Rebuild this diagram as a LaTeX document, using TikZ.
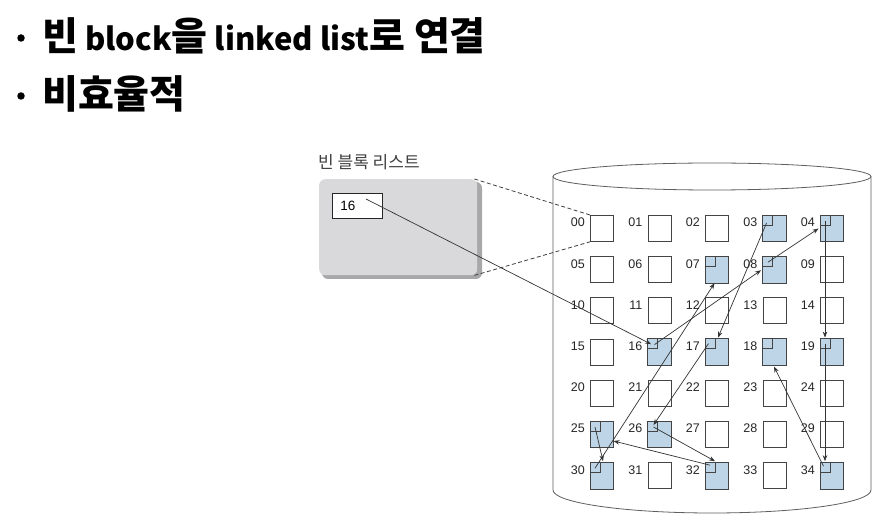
\documentclass[tikz,border=0pt]{standalone}
\usepackage{fontspec}
\setmainfont{Liberation Sans}
\newfontfamily\kor{Noto Sans CJK KR}
\newcommand\hangulbig{\fontsize{39}{42}\selectfont}
\usetikzlibrary{arrows.meta}
\definecolor{blockblue}{HTML}{BDD5E6}
\definecolor{panelgray}{HTML}{D9D9DB}
\definecolor{panelshadow}{HTML}{A8A8AA}
\definecolor{edgegray}{HTML}{444444}
\definecolor{cylgray}{HTML}{5E5E5E}
\begin{document}
\begin{tikzpicture}[x=1pt,y=-1pt,
  blockbox/.style={draw=edgegray, line width=0.8pt, fill=white, minimum width=23pt, minimum height=26pt, inner sep=0pt, anchor=north west},
  numlabel/.style={anchor=north east, inner sep=0pt, font=\fontsize{12.5}{13}\selectfont, text=black!85},
  link/.style={draw=black!80, line width=0.7pt, -{Stealth[length=6pt,width=4.5pt]}},
  cornermark/.style={draw=edgegray, line width=0.8pt},
  titletext/.style={anchor=base west, inner sep=0pt, font=\kor\bfseries\fontsize{31}{40}\selectfont},
  bullet/.style={circle, fill=black, inner sep=0pt, minimum size=7.5pt},
  dashline/.style={draw=black!75, line width=0.8pt, dash pattern=on 4pt off 2.5pt}
]
\useasboundingbox (0,0) rectangle (884,526);

% titles
\node[bullet] (bu1) at (21,38) {};
\node[titletext] (t1) at (42,51) {{\hangulbig 빈} block{\hangulbig 을} linked list{\hangulbig 로 연결}};
\node[bullet] (bu2) at (21,96) {};
\node[titletext] (t2) at (42,109) {\hangulbig 비효율적};

% cylinder
\filldraw[draw=cylgray, fill=white, line width=0.8pt]
  (553,176.5) -- (553,490) arc[start angle=180, end angle=360, x radius=159pt, y radius=23pt] -- (871,176.5);
\draw[draw=cylgray, fill=white, line width=0.8pt] (712,176.5) ellipse [x radius=159pt, y radius=13.5pt];

% free block list panel
\node[anchor=base west, inner sep=0pt, font=\kor\fontsize{17}{19}\selectfont, text=black!75] (ttl) at (318,169) {빈 블록 리스트};
\fill[panelshadow, rounded corners=6pt] (322,182) rectangle (482,279);
\node[fill=panelgray, rounded corners=6pt, minimum width=158pt, minimum height=96pt, anchor=north west, inner sep=0pt] (g) at (319,179) {};
\node[draw=black!85, fill=white, line width=0.8pt, minimum width=50pt, minimum height=25pt, anchor=north west, inner sep=0pt, font=\fontsize{13.5}{14}\selectfont] (h) at (332,193) {\makebox[34pt][l]{16}};

% blocks
\foreach \r in {0,...,6} {
  \foreach \c in {0,...,4} {
    \pgfmathtruncatemacro\n{5*\r+\c}
    \edef\lab{\ifnum\n<10 0\fi\n}
    \node[blockbox] (b\lab) at ({590+57.5*\c},{215+41.2*\r}) {};
    \node[numlabel] (l\lab) at ({585+57.5*\c},{218+41.2*\r}) {\lab};
  }
}
\foreach \b in {03,04,07,08,16,17,18,19,25,26,30,32,34} {
  \draw[draw=edgegray, line width=0.8pt, fill=blockblue] (b\b.north west) rectangle (b\b.south east);
  \draw[cornermark] ([shift={(10,0)}]b\b.north west) -- ([shift={(10,10)}]b\b.north west) -- ([shift={(0,10)}]b\b.north west);
}

% dashed zoom lines
\draw[dashline] ([shift={(-3,0)}]g.north east) -- (b00.north west);
\draw[dashline] ([shift={(-3,0)}]g.south east) -- (b00.south west);

% links
\draw[link] ([shift={(34,6)}]h.north west) -- ([shift={(3.5,5.5)}]b16.north west);
\draw[link] ([shift={(7,6)}]b16.north west) -- ([shift={(-1.5,14)}]b08.north west);
\draw[link] ([shift={(5.5,6)}]b08.north west) -- ([shift={(-1.5,13.5)}]b04.north west);
\draw[link] ([shift={(5,6)}]b04.north west) -- ([shift={(5,-1)}]b19.north west);
\draw[link] ([shift={(5,5)}]b19.north west) -- ([shift={(5,-1)}]b34.north west);
\draw[link] ([shift={(3.5,4)}]b34.north west) -- ([shift={(11.5,28)}]b18.north west);
\draw[link] ([shift={(4,8)}]b03.north west) -- ([shift={(13,-1)}]b17.north west);
\draw[link] ([shift={(3.5,5)}]b17.north west) -- ([shift={(6,4)}]b26.north west);
\draw[link] ([shift={(6,6)}]b26.north west) -- ([shift={(10,-1)}]b32.north west);
\draw[link] ([shift={(5,3)}]b32.north west) -- ([shift={(23.5,20)}]b25.north west);
\draw[link] ([shift={(5,6)}]b25.north west) -- ([shift={(13,-1)}]b30.north west);
\draw[link] ([shift={(5,6)}]b30.north west) -- ([shift={(9.5,27)}]b07.north west);
\end{tikzpicture}
\end{document}
